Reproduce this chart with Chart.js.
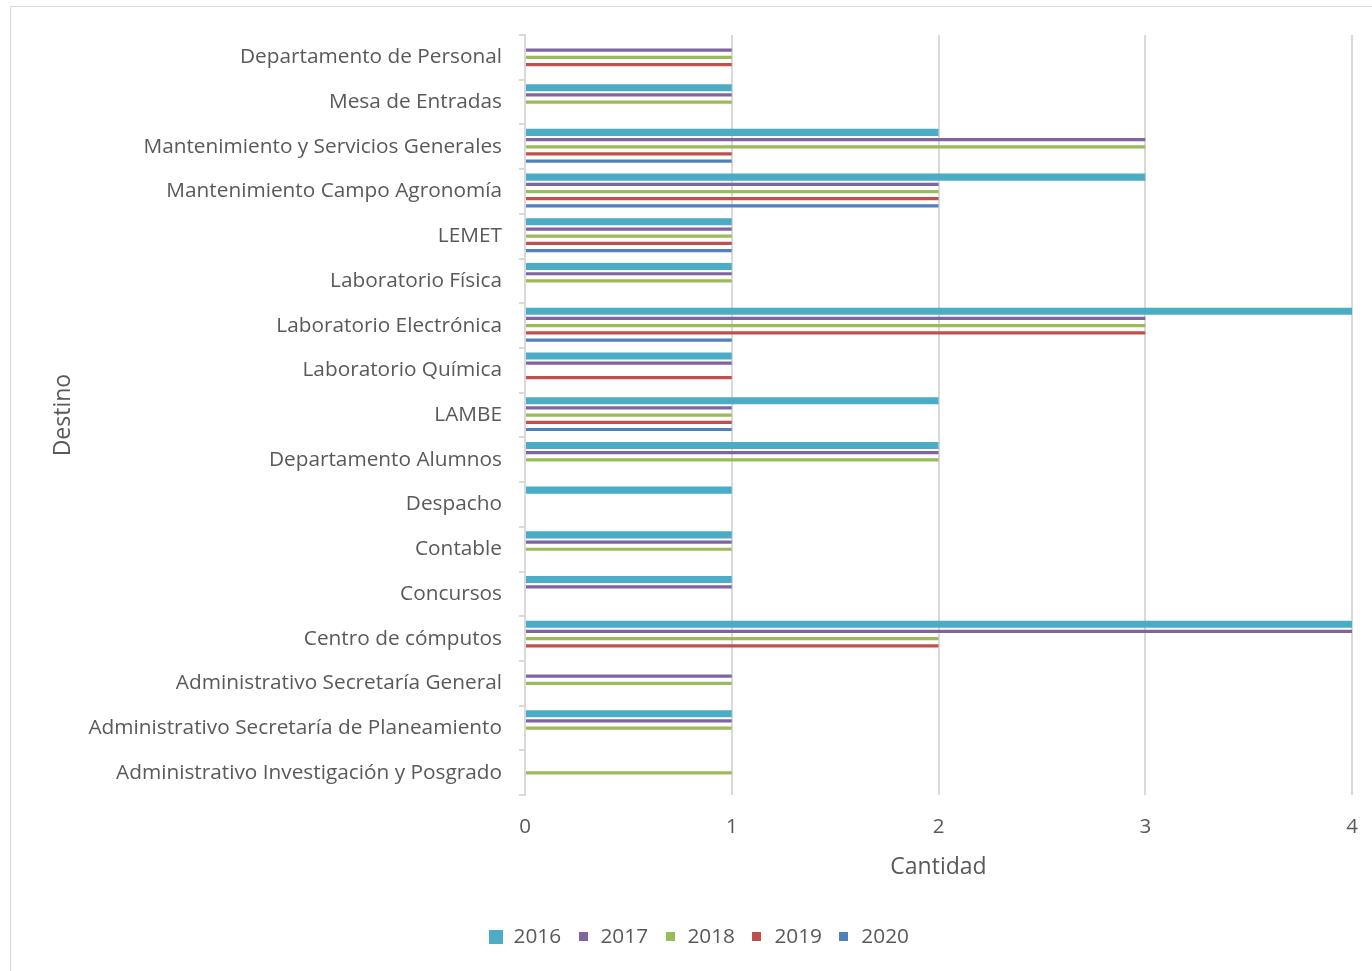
<!DOCTYPE html>
<html>
<head>
<meta charset="utf-8">
<script src="https://cdn.jsdelivr.net/npm/chart.js@4.4.1/dist/chart.umd.min.js"></script>
<style>
  html, body { margin: 0; padding: 0; background: #ffffff; overflow: hidden; }
  #wrap { position: absolute; left: 0; top: 0; width: 1372px; height: 971px; }
  #frame { position: absolute; left: 10px; top: 6px; width: 1400px; height: 1000px; border: 1px solid #d9d9d9; box-sizing: border-box; }
  canvas { position: absolute; left: 0; top: 0; }
</style>
</head>
<body>
<div id="wrap">
  <div id="frame"></div>
  <canvas id="c" width="1372" height="971"></canvas>
</div>
<script>
const categories = [
  "Departamento de Personal",
  "Mesa de Entradas",
  "Mantenimiento y Servicios Generales",
  "Mantenimiento Campo Agronomía",
  "LEMET",
  "Laboratorio Física",
  "Laboratorio Electrónica",
  "Laboratorio Química",
  "LAMBE",
  "Departamento Alumnos",
  "Despacho",
  "Contable",
  "Concursos",
  "Centro de cómputos",
  "Administrativo Secretaría General",
  "Administrativo Secretaría de Planeamiento",
  "Administrativo Investigación y Posgrado"
];
const seriesNames = ["2016", "2017", "2018", "2019", "2020"];
const values2016 = [0, 1, 2, 3, 1, 1, 4, 1, 2, 2, 1, 1, 1, 4, 0, 1, 0];
const values2017 = [1, 1, 3, 2, 1, 1, 3, 1, 1, 2, 0, 1, 1, 4, 1, 1, 0];
const values2018 = [1, 1, 3, 2, 1, 1, 3, 0, 1, 2, 0, 1, 0, 2, 1, 1, 1];
const values2019 = [1, 0, 1, 2, 1, 0, 3, 1, 1, 0, 0, 0, 0, 2, 0, 0, 0];
const values2020 = [0, 0, 1, 2, 1, 0, 1, 0, 1, 0, 0, 0, 0, 0, 0, 0, 0];
const xTickValues = [0, 1, 2, 3, 4];

const colors = ["#4BACC6", "#8064A2", "#9BBB59", "#C0504D", "#4F81BD"];
const allValues = [values2016, values2017, values2018, values2019, values2020];

function makeSwatch(color, size) {
  const cv = document.createElement('canvas');
  cv.width = size; cv.height = size;
  const g = cv.getContext('2d');
  g.fillStyle = color;
  g.fillRect(0, 0, size, size);
  return cv;
}
const swatches = colors.map((c, i) => makeSwatch(c, i === 0 ? 14 : 9));

const datasets = seriesNames.map((name, i) => ({
  label: name,
  data: allValues[i],
  backgroundColor: colors[i],
  borderWidth: 0,
  categoryPercentage: 0.805,
  barPercentage: i === 0 ? 0.98 : 0.45
}));

const FONT = "'Open Sans', 'DejaVu Sans', sans-serif";
const TXT = "#595959";
const GRID = "#d9d9d9";

new Chart(document.getElementById('c'), {
  type: 'bar',
  data: { labels: categories, datasets: datasets },
  options: {
    indexAxis: 'y',
    responsive: false,
    animation: false,
    layout: { padding: { left: 46, right: 20, top: 35, bottom: 14 } },
    scales: {
      x: {
        min: 0, max: 4,
        afterBuildTicks: (s) => { s.ticks = xTickValues.map(v => ({ value: v })); },
        afterFit: (s) => { s.height = 116; s.paddingRight = 0; s.paddingLeft = 0; },
        grid: { color: GRID, lineWidth: 2, drawTicks: false },
        border: { display: false },
        ticks: { color: TXT, font: { family: FONT, size: 20.5 }, padding: 20 },
        title: { display: true, text: 'Cantidad', color: TXT, font: { family: FONT, size: 23 }, padding: { top: 4, bottom: 30 } }
      },
      y: {
        afterFit: (s) => { s.width = 479; },
        grid: { drawOnChartArea: false, drawTicks: true, tickLength: 6, color: GRID, lineWidth: 2 },
        border: { display: true, color: GRID, width: 2 },
        ticks: { color: TXT, font: { family: FONT, size: 20.8 }, padding: 17 },
        title: { display: true, text: 'Destino', color: TXT, font: { family: FONT, size: 23 }, padding: { top: 4, bottom: 4 } }
      }
    },
    plugins: {
      legend: {
        position: 'bottom',
        labels: {
          color: TXT,
          font: { family: FONT, size: 20.8 },
          usePointStyle: true,
          boxHeight: 14,
          pointStyleWidth: 14,
          padding: 15,
          generateLabels: (chart) => {
            const items = Chart.defaults.plugins.legend.labels.generateLabels(chart);
            items.forEach((it, i) => { it.pointStyle = swatches[i]; });
            return items;
          }
        }
      },
      tooltip: { enabled: false }
    }
  }
});
</script>
</body>
</html>
